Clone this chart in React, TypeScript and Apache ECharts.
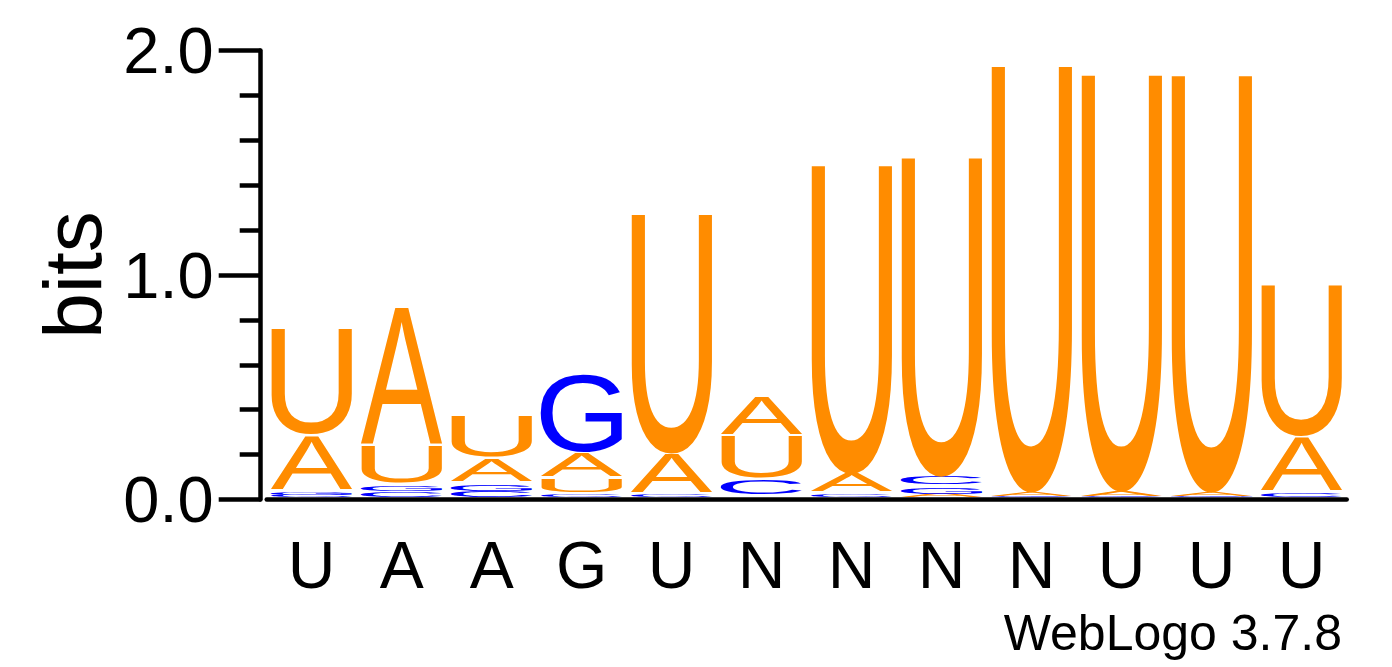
import { useEffect, useRef } from 'react';
import * as echarts from 'echarts';

// sequence positions (x axis labels)
const POSITIONS = ['U', 'A', 'A', 'G', 'U', 'N', 'N', 'N', 'N', 'U', 'U', 'U'];

// letters in each stack, bottom -> top
const STACK_LETTERS: string[][] = [
  ['C', 'G', 'A', 'U'],
  ['C', 'G', 'U', 'A'],
  ['C', 'G', 'A', 'U'],
  ['C', 'U', 'A', 'G'],
  ['C', 'A', 'U'],
  ['C', 'U', 'A'],
  ['C', 'A', 'U'],
  ['A', 'G', 'C', 'U'],
  ['C', 'A', 'U'],
  ['C', 'A', 'U'],
  ['G', 'A', 'U'],
  ['C', 'A', 'U'],
];

// height of each letter in bits, same order as STACK_LETTERS
const STACK_BITS: number[][] = [
  [0.01, 0.01, 0.247, 0.477],
  [0.025, 0.025, 0.171, 0.616],
  [0.028, 0.028, 0.112, 0.19],
  [0.01, 0.069, 0.1125, 0.3475],
  [0.01, 0.1815, 1.0645],
  [0.076, 0.193, 0.181],
  [0.012, 0.0905, 1.3685],
  [0.015, 0.03, 0.045, 1.415],
  [0.006, 0.018, 1.888],
  [0.006, 0.02, 1.846],
  [0.006, 0.018, 1.848],
  [0.015, 0.249, 0.676],
];

const LETTER_COLORS: Record<string, string> = {
  A: '#FF8C00',
  U: '#FF8C00',
  C: '#0000FF',
  G: '#0000FF',
};

const FONT = 'Liberation Sans';
const REF = 100;
const GAP_PX = 3;
const BASE_SHIFT = 2.5;

type Glyph = { left: number; right: number; base: number; cap: number };

// glyph metrics in the local coords zrender uses (dominant-baseline central)
function measureGlyphs(): Record<string, Glyph> {
  const ns = 'http://www.w3.org/2000/svg';
  const svg = document.createElementNS(ns, 'svg');
  svg.setAttribute('width', '400');
  svg.setAttribute('height', '400');
  svg.style.position = 'absolute';
  svg.style.left = '-2000px';
  svg.style.top = '0';
  const mk = (central: boolean) => {
    const t = document.createElementNS(ns, 'text');
    t.setAttribute('x', '100');
    t.setAttribute('y', '200');
    t.setAttribute('style', `font: ${REF}px "${FONT}"`);
    if (central) t.setAttribute('dominant-baseline', 'central');
    t.textContent = 'U';
    svg.appendChild(t);
    return t;
  };
  const ta = mk(false);
  const tc = mk(true);
  document.body.appendChild(svg);
  const c = tc.getBBox().y - ta.getBBox().y;
  svg.remove();

  const ctx = document.createElement('canvas').getContext('2d')!;
  ctx.font = `${REF}px "${FONT}"`;
  ctx.textAlign = 'center';
  ctx.textBaseline = 'alphabetic';
  const capH = ctx.measureText('H').actualBoundingBoxAscent;
  const out: Record<string, Glyph> = {};
  ['A', 'C', 'G', 'U'].forEach((l) => {
    const m = ctx.measureText(l);
    out[l] = {
      left: m.actualBoundingBoxLeft,
      right: m.actualBoundingBoxRight,
      base: c,
      cap: capH,
    };
  });
  return out;
}

export default function App() {
  const chartRef = useRef<HTMLDivElement>(null);

  useEffect(() => {
    if (!chartRef.current) return;
    const glyphs = measureGlyphs();
    const chart = echarts.init(chartRef.current, undefined, { renderer: 'svg' });

    const option = {
      animation: false,
      backgroundColor: '#fff',
      grid: { left: 266.7, right: 45.3, top: 50.5, bottom: 167.5, containLabel: false },
      xAxis: {
        type: 'category',
        data: POSITIONS,
        boundaryGap: true,
        axisLine: { lineStyle: { color: '#000', width: 4.5 } },
        axisTick: { alignWithLabel: true, length: 21, lineStyle: { color: '#000', width: 4.5 } },
        axisLabel: { color: '#000', fontSize: 66, fontFamily: FONT, margin: 32, interval: 0 },
        splitLine: { show: false },
      },
      yAxis: {
        type: 'value',
        min: 0,
        max: 2,
        interval: 1,
        offset: 6,
        axisLine: { show: true, lineStyle: { color: '#000', width: 4.5 } },
        axisTick: { show: true, length: 42, lineStyle: { color: '#000', width: 4.5 } },
        minorTick: { show: true, splitNumber: 5, length: 21, lineStyle: { color: '#000', width: 4.5 } },
        axisLabel: {
          color: '#000',
          fontSize: 65,
          fontFamily: FONT,
          margin: 47,
          formatter: (v: number) => v.toFixed(1),
        },
        splitLine: { show: false },
      },
      graphic: [
        {
          type: 'text',
          x: 72,
          y: 275,
          rotation: Math.PI / 2,
          style: { text: 'bits', font: `82px "${FONT}"`, fill: '#000', align: 'center', verticalAlign: 'middle' },
        },
        {
          type: 'text',
          x: 1342,
          y: 633,
          style: { text: 'WebLogo 3.7.8', font: `50px "${FONT}"`, fill: '#000', align: 'right', verticalAlign: 'middle' },
        },
      ],
      series: [
        {
          type: 'custom',
          data: POSITIONS.map((_, i) => [i]),
          encode: { x: 0 },
          silent: true,
          renderItem: (params: any, api: any) => {
            const i = api.value(0) as number;
            const letters = STACK_LETTERS[i];
            const bits = STACK_BITS[i];
            const cx = api.coord([i, 0])[0];
            const bandW = api.size([1, 0])[0];
            const inkW = bandW * 0.91;
            const children: any[] = [];
            let cum = 0;
            letters.forEach((l, k) => {
              const yb = api.coord([i, cum])[1] - BASE_SHIFT;
              cum += bits[k];
              const yt = api.coord([i, cum])[1] - BASE_SHIFT;
              const h = yb - yt;
              const g = h > 10 ? GAP_PX : 0;
              const m = glyphs[l];
              // cap height fills the slot, overshoot spills past it
              const sy = (h - g) / m.cap;
              const sx = inkW / (m.left + m.right);
              children.push({
                type: 'text',
                x: cx - (sx * (m.right - m.left)) / 2,
                y: yt - sy * (m.base - m.cap),
                scaleX: sx,
                scaleY: sy,
                style: {
                  text: l,
                  font: `${REF}px "${FONT}"`,
                  fill: LETTER_COLORS[l],
                  align: 'center',
                  verticalAlign: 'middle',
                },
              });
            });
            return { type: 'group', children };
          },
        },
      ],
    };

    chart.setOption(option as any);
    return () => chart.dispose();
  }, []);

  return (
    <div
      ref={chartRef}
      style={{ position: 'fixed', left: 0, top: 0, width: 1392, height: 667 }}
    />
  );
}
